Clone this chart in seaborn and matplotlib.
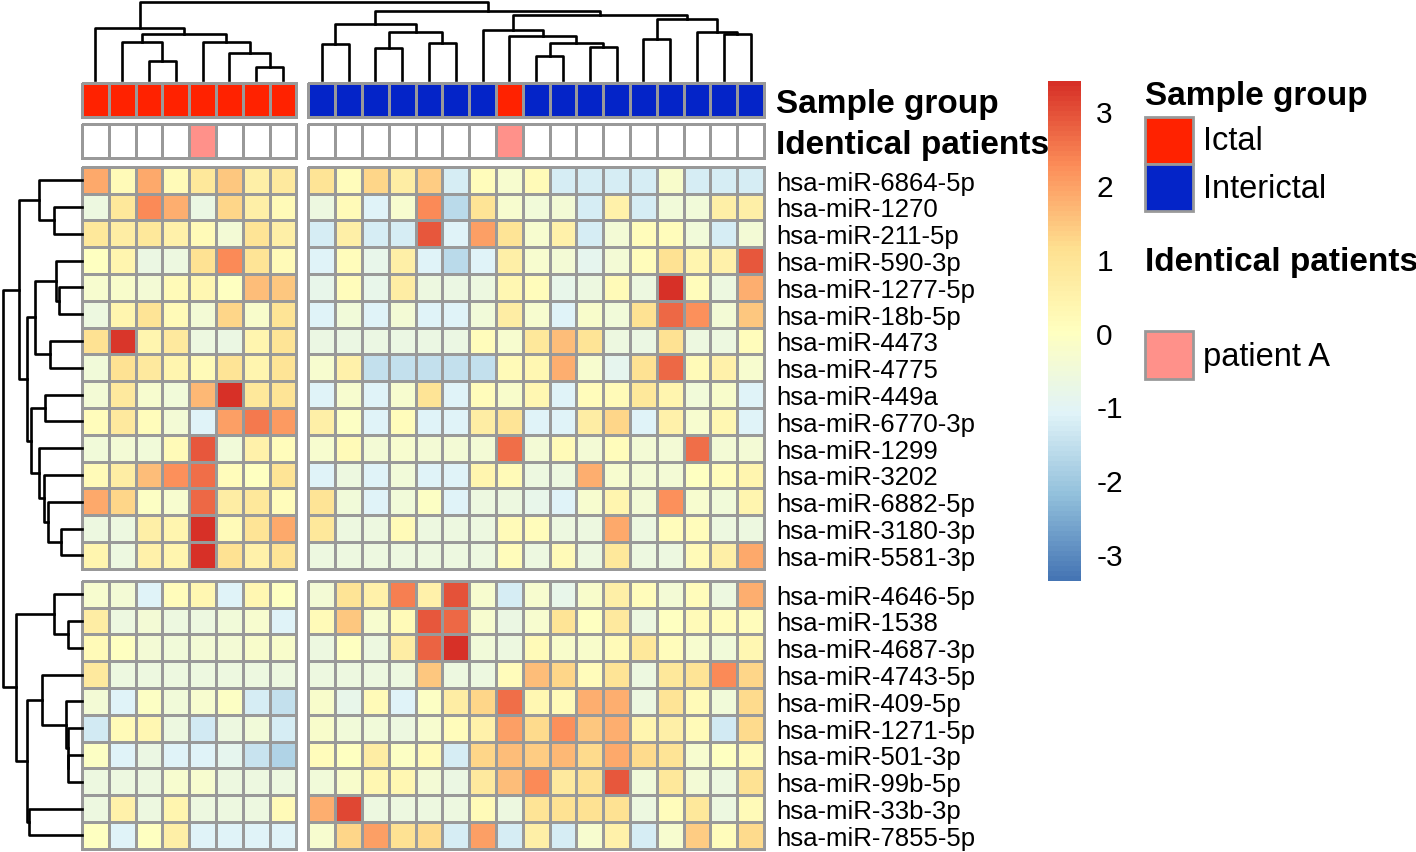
import numpy as np
import pandas as pd
import matplotlib
matplotlib.use("Agg")
import matplotlib.pyplot as plt
from matplotlib.colors import LinearSegmentedColormap, ListedColormap
from matplotlib.patches import Rectangle
import seaborn as sns

plt.rcParams["font.family"] = ["Liberation Sans", "DejaVu Sans"]
plt.rcParams["axes.unicode_minus"] = False

# %% data
mirnas = [
    "hsa-miR-6864-5p", "hsa-miR-1270", "hsa-miR-211-5p", "hsa-miR-590-3p",
    "hsa-miR-1277-5p", "hsa-miR-18b-5p", "hsa-miR-4473", "hsa-miR-4775",
    "hsa-miR-449a", "hsa-miR-6770-3p", "hsa-miR-1299", "hsa-miR-3202",
    "hsa-miR-6882-5p", "hsa-miR-3180-3p", "hsa-miR-5581-3p",
    "hsa-miR-4646-5p", "hsa-miR-1538", "hsa-miR-4687-3p", "hsa-miR-4743-5p",
    "hsa-miR-409-5p", "hsa-miR-1271-5p", "hsa-miR-501-3p", "hsa-miR-99b-5p",
    "hsa-miR-33b-3p", "hsa-miR-7855-5p",
]

sample_group = (["Ictal"] * 8 + ["Interictal"] * 7 + ["Ictal"]
                + ["Interictal"] * 9)
identical = ["", "", "", "", "patient A", "", "", "",
             "", "", "", "", "", "", "", "patient A",
             "", "", "", "", "", "", "", "", ""]

# z-scores, one row per miRNA, columns in dendrogram order
values = [
    [1.9, 0.2, 1.9, 0.2, 0.9, 1.5, 0.6, 0.8,
     1.0, 0.1, 1.3, 0.7, 1.4, -1.2, 0.1, -0.3, 0.2, -1.2, -1.2, -1.2, -1.2, -0.2, -1.2, -1.2, -1.2],
    [-0.6, 0.9, 2.3, 1.8, -0.7, 1.3, 0.6, 0.2,
     -0.6, 0.2, -1.1, -0.3, 2.3, -1.6, 1.0, -0.3, -0.5, -0.4, -1.2, 0.5, -1.2, -0.5, -0.5, 0.6, 0.6],
    [0.9, 0.7, 0.9, 0.5, 0.2, -0.4, 1.0, 0.6,
     -1.2, 0.6, -1.2, -1.2, 2.9, -1.1, 2.0, 1.0, -0.3, 0.5, -1.2, -0.4, 0.1, 0.1, -0.5, -1.2, -0.4],
    [0.0, 0.4, -0.7, -0.6, 1.1, 2.3, 1.0, 0.2,
     -1.1, 0.1, -0.8, 0.6, -1.1, -1.6, -1.1, 0.6, -0.3, -0.4, -0.9, -0.4, 0.1, 1.1, 0.4, 0.5, 2.9],
    [-0.3, -0.2, -0.4, 0.2, 0.3, 0.0, 1.6, 1.5,
     -0.8, 0.1, -0.8, 0.7, -0.6, -0.7, -0.6, 0.3, 0.1, -0.8, -0.6, 0.2, -0.6, 3.4, 0.1, -0.6, 1.8],
    [-0.6, 0.4, 1.0, 0.2, -0.4, 1.3, -0.2, 1.0,
     -1.1, -0.5, -1.1, -0.4, -1.1, -1.1, -0.5, 0.7, -0.3, -1.1, -0.2, -0.5, 1.1, 2.7, 2.2, -0.4, 1.5],
    [1.1, 3.3, 0.4, 0.8, -0.6, -0.7, 0.4, 1.0,
     -0.7, -0.7, -0.7, -0.7, -0.7, -0.7, 0.1, -0.3, 0.9, 1.6, 1.0, -0.6, -0.7, 1.1, -0.6, -0.6, 0.1],
    [-0.5, 1.1, 0.8, 0.4, 0.2, 1.0, 0.4, 1.0,
     -0.3, 0.5, -1.5, -1.5, -1.5, -1.5, -1.5, 0.2, 0.3, 1.8, -0.3, -0.9, 1.1, 2.7, 0.2, 0.5, -0.3],
    [-0.4, 0.8, -0.3, -0.5, 1.7, 3.4, 0.9, 1.0,
     -1.1, -0.3, -1.1, -0.3, 1.0, -1.1, 0.1, -0.2, 0.3, -1.1, 0.1, 0.2, 0.9, 0.4, -0.5, -0.2, -1.1],
    [0.1, 0.8, 0.1, -0.4, -1.1, 2.0, 2.5, 2.1,
     0.6, -0.1, -1.1, 0.1, -1.1, -1.1, 0.7, 1.0, -1.1, -1.1, 0.7, 1.3, -1.1, 0.5, -0.3, 0.3, -1.1],
    [-0.5, -0.4, -0.5, 0.2, 2.9, -0.5, 0.5, 0.1,
     -0.3, 0.2, -0.4, -0.3, -0.4, -0.4, -0.4, 2.6, -0.4, 0.2, -0.4, 0.1, -0.4, -0.4, 2.6, -0.4, -0.4],
    [0.2, 0.7, 1.6, 2.2, 2.6, 0.1, 0.0, 1.0,
     -1.1, -0.6, -1.1, -0.5, -1.1, -1.1, 0.4, 0.2, -0.6, -0.6, 1.8, -0.3, -0.4, -0.4, 0.0, 0.1, 0.4],
    [1.9, 1.3, -0.1, -0.3, 2.7, 0.7, 0.9, 0.1,
     1.0, -0.5, -1.1, -0.5, -0.1, -1.1, -0.6, -0.6, -0.8, -1.1, -0.3, 0.4, -0.4, 2.2, -0.3, -0.5, 0.4],
    [-0.6, -0.6, 0.6, 0.4, 3.4, 0.2, 1.0, 1.9,
     0.9, -0.6, -0.6, 0.2, -0.6, -0.6, -0.6, 0.2, 0.1, -0.6, -0.6, 1.9, -0.6, 0.1, 0.1, -0.6, -0.6],
    [0.4, -0.6, 0.5, 0.4, 3.4, 1.1, 0.5, 1.0,
     -0.6, -0.6, -0.6, -0.6, -0.6, -0.6, -0.6, 0.1, -0.6, 0.2, -0.6, 0.9, -0.6, -0.6, 0.2, 0.6, 1.9],
    [-0.3, -0.4, -1.1, 0.1, 0.3, -1.1, 0.3, 0.0,
     -0.4, 1.0, 0.5, 2.4, 0.5, 3.0, -0.3, -1.2, -0.3, -0.8, -0.2, 0.6, 0.1, -0.4, 0.1, -0.6, 1.8],
    [0.7, -0.6, -0.4, -0.6, -0.6, -0.5, -0.3, -1.1,
     0.2, 1.5, -0.3, 0.2, 2.9, 2.7, -0.3, -0.7, -0.3, 1.0, 0.0, 0.8, -0.6, 0.0, 0.2, 0.1, 0.1],
    [0.2, 0.0, -0.4, -0.5, -0.4, -0.4, -0.2, -0.2,
     -0.6, 0.0, -0.6, 0.7, 2.8, 3.4, -0.5, -0.6, 0.2, -0.2, -0.2, 0.2, 0.9, 0.1, -0.3, -0.5, 0.3],
    [0.8, -0.6, -0.6, -0.6, -0.6, -0.6, -0.6, -0.6,
     -0.6, -0.6, -0.6, -0.6, 1.5, -0.6, -0.6, 0.1, 1.6, 1.3, 0.1, 1.0, -0.6, 0.9, 1.0, 2.3, 1.3],
    [-0.4, -1.1, -0.1, -0.5, -0.3, -0.1, -1.2, -1.5,
     -0.2, -0.8, 0.2, -1.1, -0.1, 0.7, 1.3, 2.6, 0.3, 0.2, 1.8, 1.8, -0.6, 1.0, 0.2, -0.5, 1.2],
    [-1.3, 0.2, 0.3, -0.6, -1.3, -0.6, -0.5, -1.2,
     -0.2, -0.5, -0.5, -0.6, -0.3, 0.1, 0.5, 2.0, 1.2, 2.2, 1.5, 1.8, 0.4, 0.6, 0.2, -1.3, 1.2],
    [-0.1, -1.1, -0.7, -1.1, -1.1, -0.9, -1.4, -1.8,
     0.1, 0.0, 0.7, -0.1, 0.2, -1.2, 1.3, 1.6, 1.4, 1.7, 1.2, 1.9, 1.2, 1.0, -0.3, 0.0, 0.2],
    [-0.6, -0.6, -0.6, -0.3, -0.3, -0.6, -0.6, -0.6,
     -0.5, -0.2, 0.3, 0.3, -0.4, -0.7, 0.8, 1.6, 2.3, 0.8, 1.1, 2.9, -0.5, 0.9, -0.4, -0.6, 1.1],
    [-0.6, 0.5, -0.6, 0.4, -0.6, -0.6, -0.6, 0.2,
     1.8, 3.1, -0.6, -0.6, -0.6, -0.6, 0.2, -0.6, 1.0, 1.1, 1.1, 1.1, -0.6, 0.1, 0.9, -0.6, 0.2],
    [0.0, -1.1, 0.0, 0.6, -1.1, -1.1, -1.1, -1.1,
     -0.3, 1.3, 2.0, 1.1, 1.2, -1.2, 2.0, -1.2, 0.6, -1.2, -0.3, 0.5, -1.2, -0.3, 1.4, 0.1, 1.2],
]

# dendrograms as (left, right, height); ints are leaf positions
col_tree = (
    (0, ((1, (2, 3, 58), 116), (4, (5, (6, 7, 40), 83), 116), 140), 158),
    (((8, 9, 110), ((10, 11, 96), (12, 13, 113), 146), 171),
     ((14, (15, ((16, 17, 73), (18, 19, 100), 113), 133), 153),
      ((20, 21, 125), (22, (23, 24, 140), 146), 186), 196), 210),
    238,
)
row_tree = (
    ((0, (1, 2, 82), 128),
     (((3, (4, 5, 68), 77), (6, 7, 95), 140),
      ((8, 9, 110), (10, (11, (12, (13, 14, 62), 100), 112), 127), 152), 165),
     188),
    ((15, (16, 17, 42), 82),
     ((18, (19, (20, (21, 22, 40), 42), 48), 118), (23, 24, 157), 165), 198),
    237,
)

row_split, col_split = 15, 8
vmin, vmax = -3.36, 3.41

# %% layout in pixels
W, H = 1416, 853
cell = 26.8
gap = 12
cx = [82, 82 + col_split * cell]
cx = [(cx[0], cx[1]), (cx[1] + gap, cx[1] + gap + (25 - col_split) * cell)]
ry = [(167.7, 167.7 + row_split * cell)]
ry.append((ry[0][1] + gap, ry[0][1] + gap + (25 - row_split) * cell))
grey = "#999999"
colors_group = {"Ictal": "#FF2200", "Interictal": "#0424C8"}
color_patient = "#FF918A"
cmap = LinearSegmentedColormap.from_list(
    "rdylbu", ["#4575B4", "#91BFDB", "#E0F3F8", "#FFFFBF",
               "#FEE090", "#FC8D59", "#D73027"], N=100)

fig = plt.figure(figsize=(W / 100, H / 100), dpi=100)


def px_axes(x0, y0, x1, y1):
    return fig.add_axes([x0 / W, 1 - y1 / H, (x1 - x0) / W, (y1 - y0) / H])


def right_labels(ax, labels, **kw):
    ax.yaxis.tick_right()
    ax.set_yticks(np.arange(len(labels)) + 0.5)
    ax.set_yticklabels(labels, rotation=0, **kw)
    ax.tick_params(axis="y", length=0, pad=9)


df = pd.DataFrame(values, index=mirnas)
cax = px_axes(1048, 81.7, 1081, 581.7)
rows = [(0, row_split), (row_split, 25)]
cols = [(0, col_split), (col_split, 25)]
first = True
for (r0, r1), (ya, yb) in zip(rows, ry):
    for (c0, c1), (xa, xb) in zip(cols, cx):
        ax = px_axes(xa, ya, xb, yb)
        sns.heatmap(df.iloc[r0:r1, c0:c1], ax=ax, cmap=cmap, vmin=vmin, vmax=vmax,
                    linewidths=2, linecolor=grey, xticklabels=False,
                    yticklabels=False, cbar=first,
                    cbar_ax=cax if first else None,
                    cbar_kws={"ticks": [-3, -2, -1, 0, 1, 2, 3]})
        ax.collections[0].set_clip_on(False)
        if first:
            cb = ax.collections[0].colorbar
            cb.outline.set_visible(False)
            cax.tick_params(length=0, labelsize=21.5, pad=11)
            first = False
        if c0 == col_split:
            right_labels(ax, mirnas[r0:r1], fontsize=18.5)

# %% annotation bars
group_codes = np.array([[0 if g == "Ictal" else 1 for g in sample_group]])
patient_codes = np.array([[1 if p else 0 for p in identical]])
ann = [
    ("Sample group", group_codes,
     ListedColormap([colors_group["Ictal"], colors_group["Interictal"]]), (84, 118.3)),
    ("Identical patients", patient_codes,
     ListedColormap(["white", color_patient]), (125, 159.3)),
]
for name, codes, acmap, (ya, yb) in ann:
    for (c0, c1), (xa, xb) in zip(cols, cx):
        ax = px_axes(xa, ya, xb, yb)
        sns.heatmap(pd.DataFrame(codes[:, c0:c1]), ax=ax, cmap=acmap, vmin=0, vmax=1,
                    linewidths=2, linecolor=grey, cbar=False,
                    xticklabels=False, yticklabels=False)
        ax.collections[0].set_clip_on(False)
        if c0 == col_split:
            right_labels(ax, [name], fontsize=24, fontweight="bold")


# %% dendrograms
def draw_tree(ax, node, pos, vertical):
    if isinstance(node, int):
        return pos[node], 0.0
    a, b, h = node
    pa, ha = draw_tree(ax, a, pos, vertical)
    pb, hb = draw_tree(ax, b, pos, vertical)
    p = [pa, pa, pb, pb]
    q = [ha, h, h, hb]
    if vertical:
        ax.plot(p, q, color="black", lw=1.9, clip_on=False)
    else:
        ax.plot(q, p, color="black", lw=1.9, clip_on=False)
    return (pa + pb) / 2, h


col_pos = [cx[0][0] + cell * (i + 0.5) for i in range(col_split)]
col_pos += [cx[1][0] + cell * (i + 0.5) for i in range(25 - col_split)]
row_pos = [ry[0][0] + cell * (i + 0.5) for i in range(row_split)]
row_pos += [ry[1][0] + cell * (i + 0.5) for i in range(25 - row_split)]

dax = px_axes(cx[0][0], 2.5, cx[1][1], 81)
dax.set_xlim(cx[0][0], cx[1][1])
dax.set_ylim(0, col_tree[2])
dax.axis("off")
draw_tree(dax, col_tree, col_pos, True)

rax = px_axes(2.7, ry[0][0], 81.7, ry[1][1])
rax.set_ylim(ry[1][1], ry[0][0])
rax.set_xlim(row_tree[2], 0)
rax.axis("off")
draw_tree(rax, row_tree, row_pos, False)

# %% legends
ov = fig.add_axes([0, 0, 1, 1])
ov.set_xlim(0, W)
ov.set_ylim(H, 0)
ov.axis("off")
ov.text(1145, 96, "Sample group", fontsize=24, fontweight="bold", va="center")
for i, g in enumerate(["Ictal", "Interictal"]):
    y0 = 117.7 + i * 47.5
    ov.add_patch(Rectangle((1144.5, y0), 48, 47, fc=colors_group[g], ec=grey, lw=2))
    ov.text(1203, y0 + 24, g, fontsize=23.5, va="center")
ov.text(1145, 262, "Identical patients", fontsize=24, fontweight="bold", va="center")
ov.add_patch(Rectangle((1144.5, 332), 48, 48, fc=color_patient, ec=grey, lw=2))
ov.text(1203, 357, "patient A", fontsize=23.5, va="center")

fig.savefig("out.png", dpi=100)
